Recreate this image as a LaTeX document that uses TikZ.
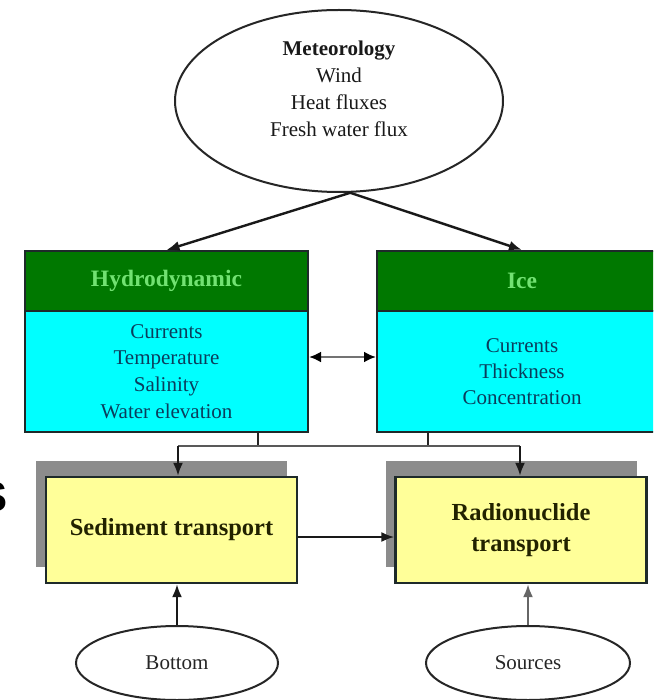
\documentclass[tikz,border=0pt]{standalone}
\usepackage{fontspec}
\setmainfont{Liberation Serif}
\setsansfont{Liberation Sans}
\usetikzlibrary{shapes.geometric,arrows.meta,calc}
\definecolor{hdrgreen}{HTML}{007800}
\definecolor{hdrtext}{HTML}{72E272}
\definecolor{cyanbox}{HTML}{00FFFF}
\definecolor{cyantext}{HTML}{0B3D5C}
\definecolor{yellowbox}{HTML}{FFFF99}
\definecolor{shadowgray}{HTML}{8C8C8C}
\definecolor{boxline}{HTML}{1E2A2A}
\definecolor{yellowtext}{HTML}{222200}
\tikzset{
  oval/.style={ellipse, draw=black!85, line width=2pt, fill=white, inner sep=0pt},
  hdrbox/.style={rectangle, draw=boxline, line width=2pt, fill=hdrgreen, text=hdrtext,
    inner sep=0pt, font=\fontsize{23.5}{28}\selectfont\bfseries},
  bodybox/.style={rectangle, draw=boxline, line width=2pt, fill=cyanbox, text=cyantext,
    inner sep=0pt, align=center},
  transbox/.style={rectangle, draw=boxline, line width=2.2pt, fill=yellowbox, text=yellowtext,
    inner sep=0pt, align=center, minimum width=251, minimum height=106,
    font=\fontsize{24.5}{31}\selectfont\bfseries},
  shadowbox/.style={fill=shadowgray, draw=none},
  arr/.style={line width=2.4pt, draw=black!90, -{Latex[length=13pt,width=10pt]}},
  plainline/.style={line width=2.4pt, draw=black!85},
}
\begin{document}
\begin{tikzpicture}[x=1pt,y=-1pt]
\useasboundingbox (0,0) rectangle (653,700);
\begin{scope}
\clip (0,0) rectangle (653,700);
\fill[white] (0,0) rectangle (653,700);

% stray cut-off glyph at left edge (as in the reference)
\node[anchor=east, inner sep=0pt, font=\fontsize{42}{42}\sffamily\bfseries] (stray) at (8,497) {S};

% Meteorology
\node[oval, minimum width=328, minimum height=182] (met) at (339,101) {};
\node[align=center, font=\fontsize{21}{27}\selectfont, text=black!90] (metT) at (339,89)
  {\textbf{Meteorology}\\Wind\\Heat fluxes\\Fresh water flux};

% Hydrodynamic
\node[hdrbox, minimum width=283, minimum height=60] (hydroH) at (166.5,281) {Hydrodynamic};
\node[bodybox, minimum width=283, minimum height=121, font=\fontsize{21}{26.7}\selectfont]
  (hydroB) at (166.5,371.5) {Currents\\Temperature\\Salinity\\Water elevation};

% Ice
\node[hdrbox, minimum width=290, minimum height=60] (iceH) at (522,281) {Ice};
\node[bodybox, minimum width=290, minimum height=121, font=\fontsize{21}{26}\selectfont]
  (iceB) at (522,371.5) {Currents\\Thickness\\Concentration};

% Shadows and transport boxes
\fill[shadowgray] (36,461) rectangle (287,567);
\fill[shadowgray] (386,461) rectangle (637,567);
\node[transbox] (sed) at (171.5,530) {Sediment transport};
\node[transbox] (rad) at (521,530) {Radionuclide\\transport};

% Bottom ellipses
\node[oval, minimum width=202, minimum height=74, font=\fontsize{21}{26}\selectfont, text=black!85]
  (bot) at (177,663) {Bottom};
\node[oval, minimum width=204, minimum height=74, font=\fontsize{21}{26}\selectfont, text=black!85]
  (src) at (528,663) {Sources};

% Connectors from meteorology
\draw[arr] (met.-83) -- (hydroH.north);
\draw[arr] (met.-83) -- (iceH.north);

% Hydrodynamic <-> Ice
\draw[line width=2.6pt, draw=black!55, {Latex[length=12pt,width=11pt,black]}-{Latex[length=12pt,width=11pt,black]}]
  ([yshift=14.5pt]hydroB.east) -- ([yshift=14.5pt]hydroB.east -| iceB.west);

% Distribution lines
\coordinate (j1) at (258,446);
\coordinate (j2) at (428,446);
\coordinate (jl) at (178,446);
\coordinate (jr) at (520,446);
\draw[plainline] (hydroB.south -| j1) -- (j1);
\draw[plainline] (iceB.south -| j2) -- (j2);
\draw[plainline, draw=black!65] (jl) -- (jr);
\draw[arr] (jl) -- (sed.north -| jl);
\draw[arr] (jr) -- (rad.north -| jr);

% Sediment -> Radionuclide
\draw[arr] ([yshift=-7pt]sed.east) -- ([yshift=-7pt]sed.east -| rad.west);

% Bottom / Sources up
\draw[arr] (bot.north) -- (sed.south -| bot.north);
\draw[arr, draw=black!60] (src.north) -- (rad.south -| src.north);
\end{scope}
\end{tikzpicture}
\end{document}
